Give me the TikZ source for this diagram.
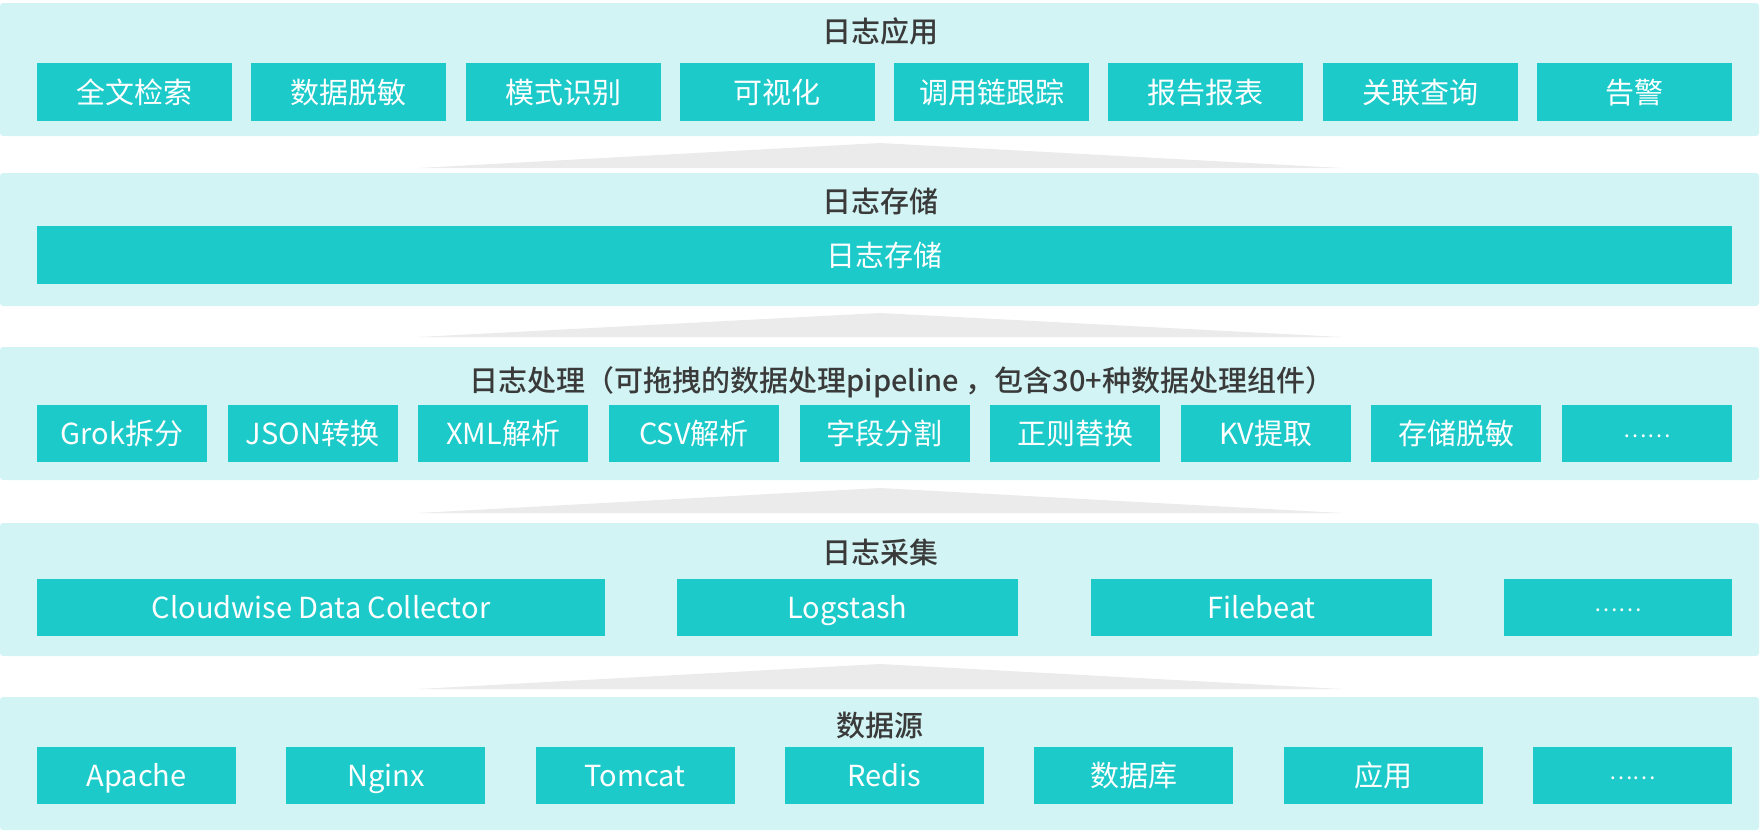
\documentclass[tikz,border=0pt]{standalone}
\usepackage{fontspec}
\setmainfont{Noto Sans CJK SC}
\newfontfamily\titlefont{Noto Sans CJK SC Medium}
\newcommand\cellipsis{\raisebox{7.5pt}{\fontsize{22}{24}\selectfont ……}}
\definecolor{panelbg}{HTML}{D2F4F4}
\definecolor{boxbg}{HTML}{1CCACA}
\definecolor{arrowgray}{HTML}{EBEBEB}
\definecolor{titlegray}{HTML}{3A3A3A}
\begin{document}
\begin{tikzpicture}[x=1pt,y=-1pt,
  panel/.style={fill=panelbg, rounded corners=3pt, anchor=north west, inner sep=0pt, outer sep=0pt, minimum width=1759pt, minimum height=133pt},
  item/.style={fill=boxbg, anchor=north west, inner sep=0pt, outer sep=0pt, text=white, text height=25.5pt, text depth=3.5pt, font=\fontsize{29}{32}\selectfont},
  ptitle/.style={text=titlegray, inner sep=0pt, text height=25.5pt, text depth=3.5pt, font=\fontsize{29}{32}\titlefont},
  uparrow/.style={fill=arrowgray}]
\useasboundingbox (0,0) rectangle (1760,831);
% panels
\node[panel] (p1) at (0,3) {};
\node[panel] (p2) at (0,173) {};
\node[panel] (p3) at (0,347) {};
\node[panel] (p4) at (0,523) {};
\node[panel] (p5) at (0,697) {};
% titles
\node[ptitle] (t1) at (880,31) {日志应用};
\node[ptitle] (t2) at (880,201) {日志存储};
\node[ptitle] (t3) at (902,380) {日志处理（可拖拽的数据处理pipeline ，包含30+种数据处理组件）};
\node[ptitle] (t4) at (880,552) {日志采集};
\node[ptitle] (t5) at (880,725) {数据源};
% arrows between layers
\fill[uparrow] (418,168) -- (880,143) -- (1342,168) -- cycle;
\fill[uparrow] (418,337) -- (880,313) -- (1342,337) -- cycle;
\fill[uparrow] (418,513) -- (880,488) -- (1342,513) -- cycle;
\fill[uparrow] (418,689) -- (880,664) -- (1342,689) -- cycle;
% layer 1
\foreach \t [count=\i from 0] in {全文检索,数据脱敏,模式识别,可视化,调用链跟踪,报告报表,关联查询,告警}
  \node[item, minimum width=195pt, minimum height=58pt] (a\i) at ({37+\i*214.29},63) {\t};
% layer 2
\node[item, minimum width=1695pt, minimum height=58pt] (s0) at (37,226) {日志存储};
% layer 3
\foreach \t [count=\i from 0] in {Grok拆分,JSON转换,XML解析,CSV解析,字段分割,正则替换,KV提取,存储脱敏,\cellipsis}
  \node[item, minimum width=170pt, minimum height=57pt] (c\i) at ({37+\i*190.625},405) {\t};
% layer 4
\node[item, minimum width=568pt, minimum height=57pt] (g0) at (37,579) {Cloudwise Data Collector};
\node[item, minimum width=341pt, minimum height=57pt] (g1) at (677,579) {Logstash};
\node[item, minimum width=341pt, minimum height=57pt] (g2) at (1091,579) {Filebeat};
\node[item, minimum width=228pt, minimum height=57pt] (g3) at (1504,579) {\cellipsis};
% layer 5
\foreach \t [count=\i from 0] in {Apache,Nginx,Tomcat,Redis,数据库,应用,\cellipsis}
  \node[item, minimum width=199pt, minimum height=57pt] (d\i) at ({37+\i*249.33},747) {\t};
\end{tikzpicture}
\end{document}
